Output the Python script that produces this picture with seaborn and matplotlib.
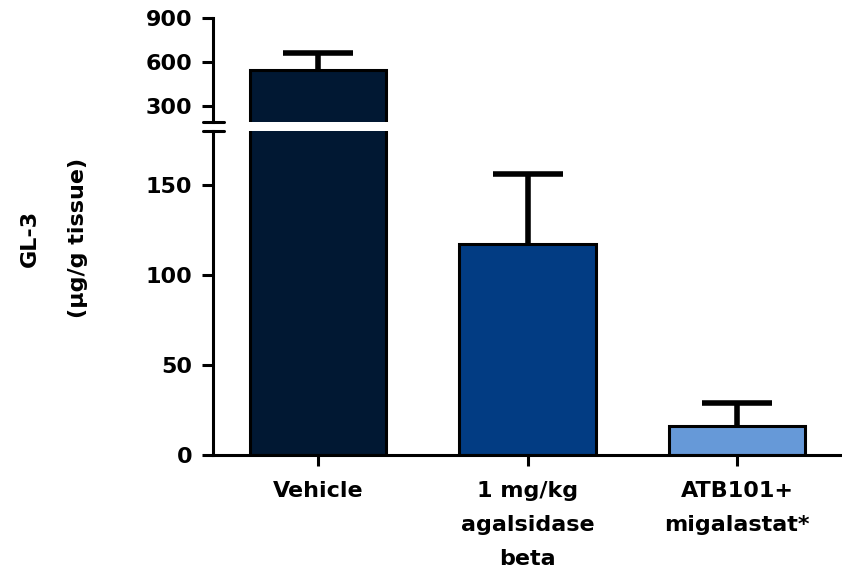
# GL-3 levels by treatment, broken y axis
import pandas as pd
import matplotlib
matplotlib.use("Agg")
import matplotlib.pyplot as plt
import seaborn as sns

# -------------------------
# data
# -------------------------
groups = ["Vehicle", "1 mg/kg\nagalsidase\nbeta", "ATB101+\nmigalastat*"]
gl3_mean = [545, 117, 16]
gl3_err = [115, 39, 13]
bar_colors = ["#011833", "#023c83", "#6699d8"]

upper_ticks = [300, 600, 900]
lower_ticks = [0, 50, 100, 150]

df = pd.DataFrame({"group": groups, "gl3": gl3_mean})

sns.set_style("white")
plt.rcParams["font.family"] = ["DejaVu Sans"]
plt.rcParams["font.weight"] = "bold"

fig = plt.figure(figsize=(8.42, 5.77), dpi=100)
W, H = 842, 577
ax_lo = fig.add_axes([213 / W, (H - 455) / H, (W - 213) / W, (455 - 131) / H])
ax_hi = fig.add_axes([213 / W, (H - 122) / H, (W - 213) / W, (122 - 18) / H])

lw = 2.2
for ax in (ax_lo, ax_hi):
    sns.barplot(data=df, x="group", y="gl3", hue="group", palette=bar_colors,
                saturation=1, errorbar=None, width=0.65, edgecolor="black",
                linewidth=lw, legend=False, ax=ax, zorder=2)
    eb = ax.errorbar(range(len(groups)), gl3_mean,
                     yerr=[[0] * len(groups), gl3_err],
                     fmt="none", ecolor="black", elinewidth=4, capsize=25,
                     capthick=4, zorder=1)
    # one-sided bars: drop the lower caps
    eb[1][0].remove()
    ax.set_xlim(-0.5, 2.5)
    ax.set_xlabel("")
    ax.set_ylabel("")
    for s in ("top", "right"):
        ax.spines[s].set_visible(False)
    for s in ("left", "bottom"):
        ax.spines[s].set_linewidth(lw)
        ax.spines[s].set_color("black")
    ax.tick_params(axis="y", direction="out", length=8, width=lw, pad=7,
                   labelsize=16, left=True, colors="black")
    for lab in ax.get_yticklabels():
        lab.set_fontweight("bold")

# lower panel
ax_lo.set_ylim(0, 180)
ax_lo.set_yticks(lower_ticks)
ax_lo.tick_params(axis="x", direction="out", length=8, width=lw, pad=11,
                  labelsize=16, bottom=True, colors="black")
ax_lo.set_xticks(range(len(groups)))
ax_lo.set_xticklabels(groups, fontweight="bold", linespacing=1.85)

# upper panel
ax_hi.set_ylim(191, 900)
ax_hi.set_yticks(upper_ticks)
ax_hi.spines["bottom"].set_visible(False)
ax_hi.set_xticks([])

# break marks
d = 10.5 / (W - 213)
ax_hi.plot([-d, d], [0, 0], transform=ax_hi.transAxes, color="black",
           lw=lw, clip_on=False)
ax_lo.plot([-d, d], [1, 1], transform=ax_lo.transAxes, color="black",
           lw=lw, clip_on=False)

fig.text(54 / W, 1 - 238 / H, "GL-3\n(\u03bcg/g tissue)", rotation=90,
         ha="center", va="center", fontsize=16, fontweight="bold",
         color="black", linespacing=2.8)

fig.savefig("out.png", dpi=100)
